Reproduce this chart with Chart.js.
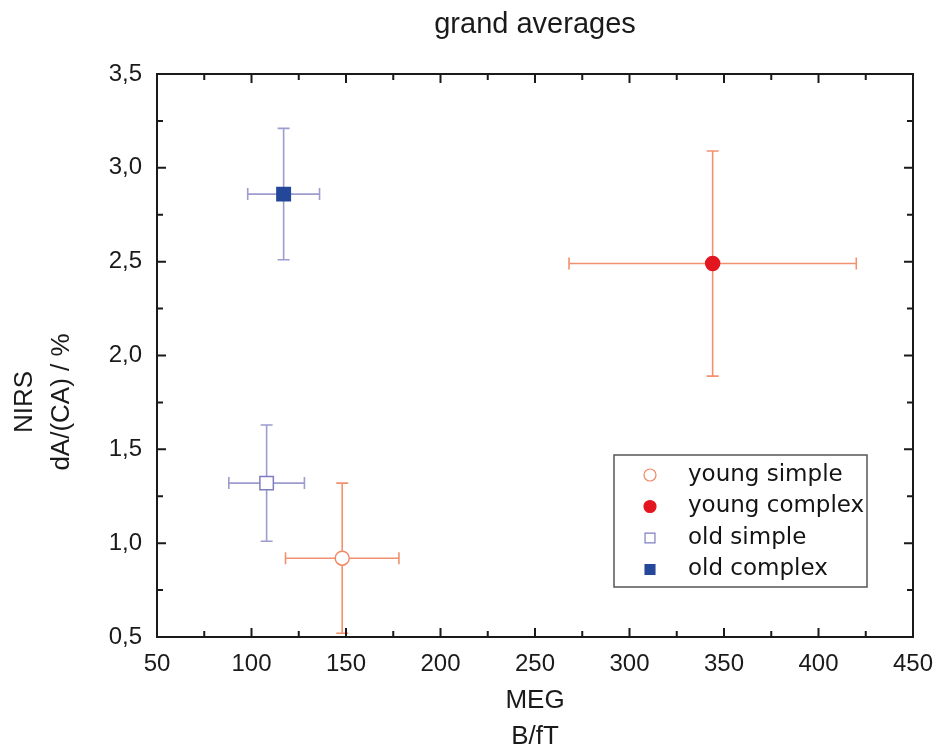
<!DOCTYPE html>
<html>
<head>
<meta charset="utf-8">
<script src="https://cdn.jsdelivr.net/npm/chart.js@4.4.1/dist/chart.umd.min.js"></script>
<style>
  html, body { margin: 0; padding: 0; background: #fff; }
  #wrap { width: 937px; height: 749px; }
</style>
</head>
<body>
<div id="wrap"><canvas id="chart" width="937" height="749"></canvas></div>
<script>
// values
const seriesNames = ["young simple", "young complex", "old simple", "old complex"];
const megValues = [148, 344, 108, 117];
const megErrors = [30, 76, 20, 19];
const nirsValues = [0.92, 2.49, 1.32, 2.86];
const nirsErrors = [0.40, 0.60, 0.31, 0.35];

const xTicks = [50, 100, 150, 200, 250, 300, 350, 400, 450];
const yTicks = [0.5, 1.0, 1.5, 2.0, 2.5, 3.0, 3.5];
const yTitle = ["NIRS", "dA/(CA) / %"];

const youngBar = "#f2916f";
const oldBar = "#9c9ccf";

const styles = [
    { pointStyle: "circle", radius: 7, fill: "#ffffff", stroke: "#f08a66", bar: youngBar },
    { pointStyle: "circle", radius: 7, fill: "#e3161f", stroke: "#e3161f", bar: youngBar },
    { pointStyle: "rect", radius: 9.5, fill: "#ffffff", stroke: "#7e7ec0", bar: oldBar },
    { pointStyle: "rect", radius: 9.5, fill: "#25479a", stroke: "#25479a", bar: oldBar },
];

const datasets = seriesNames.map((name, i) => ({
    label: name,
    data: [{ x: megValues[i], y: nirsValues[i], xErr: megErrors[i], yErr: nirsErrors[i] }],
    pointStyle: styles[i].pointStyle,
    pointRadius: styles[i].radius,
    pointBackgroundColor: styles[i].fill,
    pointBorderColor: styles[i].stroke,
    pointBorderWidth: 1.5,
    errorColor: styles[i].bar,
}));

function fmt(v) {
    return v.toFixed(1).replace(".", ",");
}

// error bars, drawn under the markers
const errorBars = {
    id: "errorBars",
    beforeDatasetsDraw(chart) {
        const ctx = chart.ctx;
        const xs = chart.scales.x;
        const ys = chart.scales.y;
        const cap = 6;
        ctx.save();
        chart.data.datasets.forEach((ds) => {
            ds.data.forEach((p) => {
                const cx = xs.getPixelForValue(p.x);
                const cy = ys.getPixelForValue(p.y);
                const x1 = xs.getPixelForValue(p.x - p.xErr);
                const x2 = xs.getPixelForValue(p.x + p.xErr);
                const y1 = ys.getPixelForValue(p.y - p.yErr);
                const y2 = ys.getPixelForValue(p.y + p.yErr);
                ctx.strokeStyle = ds.errorColor;
                ctx.lineWidth = 1.6;
                ctx.beginPath();
                ctx.moveTo(x1, cy); ctx.lineTo(x2, cy);
                ctx.moveTo(cx, y1); ctx.lineTo(cx, y2);
                ctx.moveTo(x1, cy - cap); ctx.lineTo(x1, cy + cap);
                ctx.moveTo(x2, cy - cap); ctx.lineTo(x2, cy + cap);
                ctx.moveTo(cx - cap, y1); ctx.lineTo(cx + cap, y1);
                ctx.moveTo(cx - cap, y2); ctx.lineTo(cx + cap, y2);
                ctx.stroke();
            });
        });
        ctx.restore();
    },
};

// frame with inward ticks on all four sides, y title and the boxed legend
const frame = {
    id: "frame",
    afterDraw(chart) {
        const ctx = chart.ctx;
        const a = chart.chartArea;
        const xs = chart.scales.x;
        const ys = chart.scales.y;
        ctx.save();
        ctx.strokeStyle = "#1a1a1a";
        ctx.lineWidth = 2;
        ctx.strokeRect(a.left, a.top, a.right - a.left, a.bottom - a.top);

        ctx.beginPath();
        for (let i = 0; i < xTicks.length * 2 - 1; i++) {
            const v = xTicks[0] + i * 25;
            const px = xs.getPixelForValue(v);
            const len = i % 2 === 0 ? 9 : 6;
            ctx.moveTo(px, a.bottom); ctx.lineTo(px, a.bottom - len);
            ctx.moveTo(px, a.top); ctx.lineTo(px, a.top + len);
        }
        for (let i = 0; i < yTicks.length * 2 - 1; i++) {
            const v = yTicks[0] + i * 0.25;
            const py = ys.getPixelForValue(v);
            const len = i % 2 === 0 ? 9 : 6;
            ctx.moveTo(a.left, py); ctx.lineTo(a.left + len, py);
            ctx.moveTo(a.right, py); ctx.lineTo(a.right - len, py);
        }
        ctx.stroke();

        // y axis title, sits a bit below the middle of the plot
        ctx.fillStyle = "#1a1a1a";
        ctx.font = "26px 'Liberation Sans', Arial";
        ctx.textAlign = "center";
        ctx.textBaseline = "middle";
        yTitle.forEach((line, i) => {
            ctx.save();
            ctx.translate(25 + i * 37, 402);
            ctx.rotate(-Math.PI / 2);
            ctx.fillText(line, 0, 0);
            ctx.restore();
        });

        // legend
        const boxL = a.left + 457;
        const boxT = a.top + 381;
        const boxW = 253;
        const boxH = 132;
        ctx.strokeStyle = "#555";
        ctx.lineWidth = 1.5;
        ctx.strokeRect(boxL, boxT, boxW, boxH);
        ctx.font = "23px 'DejaVu Sans'";
        ctx.textBaseline = "middle";
        ctx.textAlign = "left";
        chart.data.datasets.forEach((ds, i) => {
            const y = boxT + 20 + i * 31.5;
            ctx.fillStyle = ds.pointBackgroundColor;
            ctx.strokeStyle = ds.pointBorderColor;
            ctx.lineWidth = 1.2;
            Chart.helpers.drawPoint(ctx, {
                pointStyle: ds.pointStyle,
                radius: ds.pointStyle === "rect" ? 7 : 6,
                rotation: 0,
                borderWidth: 1.2,
            }, boxL + 36, y);
            ctx.fillStyle = "#141414";
            ctx.fillText(ds.label, boxL + 74, y);
        });
        ctx.restore();
    },
};

new Chart(document.getElementById("chart"), {
    type: "scatter",
    data: { datasets: datasets },
    options: {
        responsive: false,
        animation: false,
        layout: { padding: { left: 0, right: 24, top: 0, bottom: 0 } },
        plugins: {
            legend: { display: false },
            tooltip: { enabled: false },
            title: {
                display: true,
                text: "grand averages",
                fullSize: false,
                color: "#1a1a1a",
                font: { family: "'Liberation Sans', Arial", size: 29, weight: "normal", lineHeight: 1.2 },
                padding: { top: 8, bottom: 31.2 },
            },
        },
        scales: {
            x: {
                type: "linear",
                min: 50,
                max: 450,
                afterBuildTicks(scale) {
                    scale.ticks = xTicks.map((v) => ({ value: v }));
                },
                afterFit(scale) {
                    scale.height = 112;
                    scale.paddingLeft = 0;
                    scale.paddingRight = 0;
                },
                grid: { display: false, drawTicks: false },
                border: { display: false },
                ticks: {
                    color: "#1a1a1a",
                    padding: 13,
                    maxRotation: 0,
                    font: { family: "'Liberation Sans', Arial", size: 24 },
                    callback: (v) => String(v),
                },
                title: {
                    display: true,
                    text: ["MEG", "B/fT"],
                    color: "#1a1a1a",
                    font: { family: "'Liberation Sans', Arial", size: 26, lineHeight: "36px" },
                    padding: { top: 0, bottom: -6 },
                },
            },
            y: {
                type: "linear",
                min: 0.5,
                max: 3.5,
                afterBuildTicks(scale) {
                    scale.ticks = yTicks.map((v) => ({ value: v }));
                },
                afterFit(scale) {
                    scale.width = 157;
                    scale.paddingTop = 0;
                    scale.paddingBottom = 0;
                },
                grid: { display: false, drawTicks: false },
                border: { display: false },
                ticks: {
                    color: "#1a1a1a",
                    padding: 15,
                    font: { family: "'Liberation Sans', Arial", size: 24 },
                    callback: (v) => fmt(v),
                },
            },
        },
    },
    plugins: [errorBars, frame],
});
</script>
</body>
</html>
